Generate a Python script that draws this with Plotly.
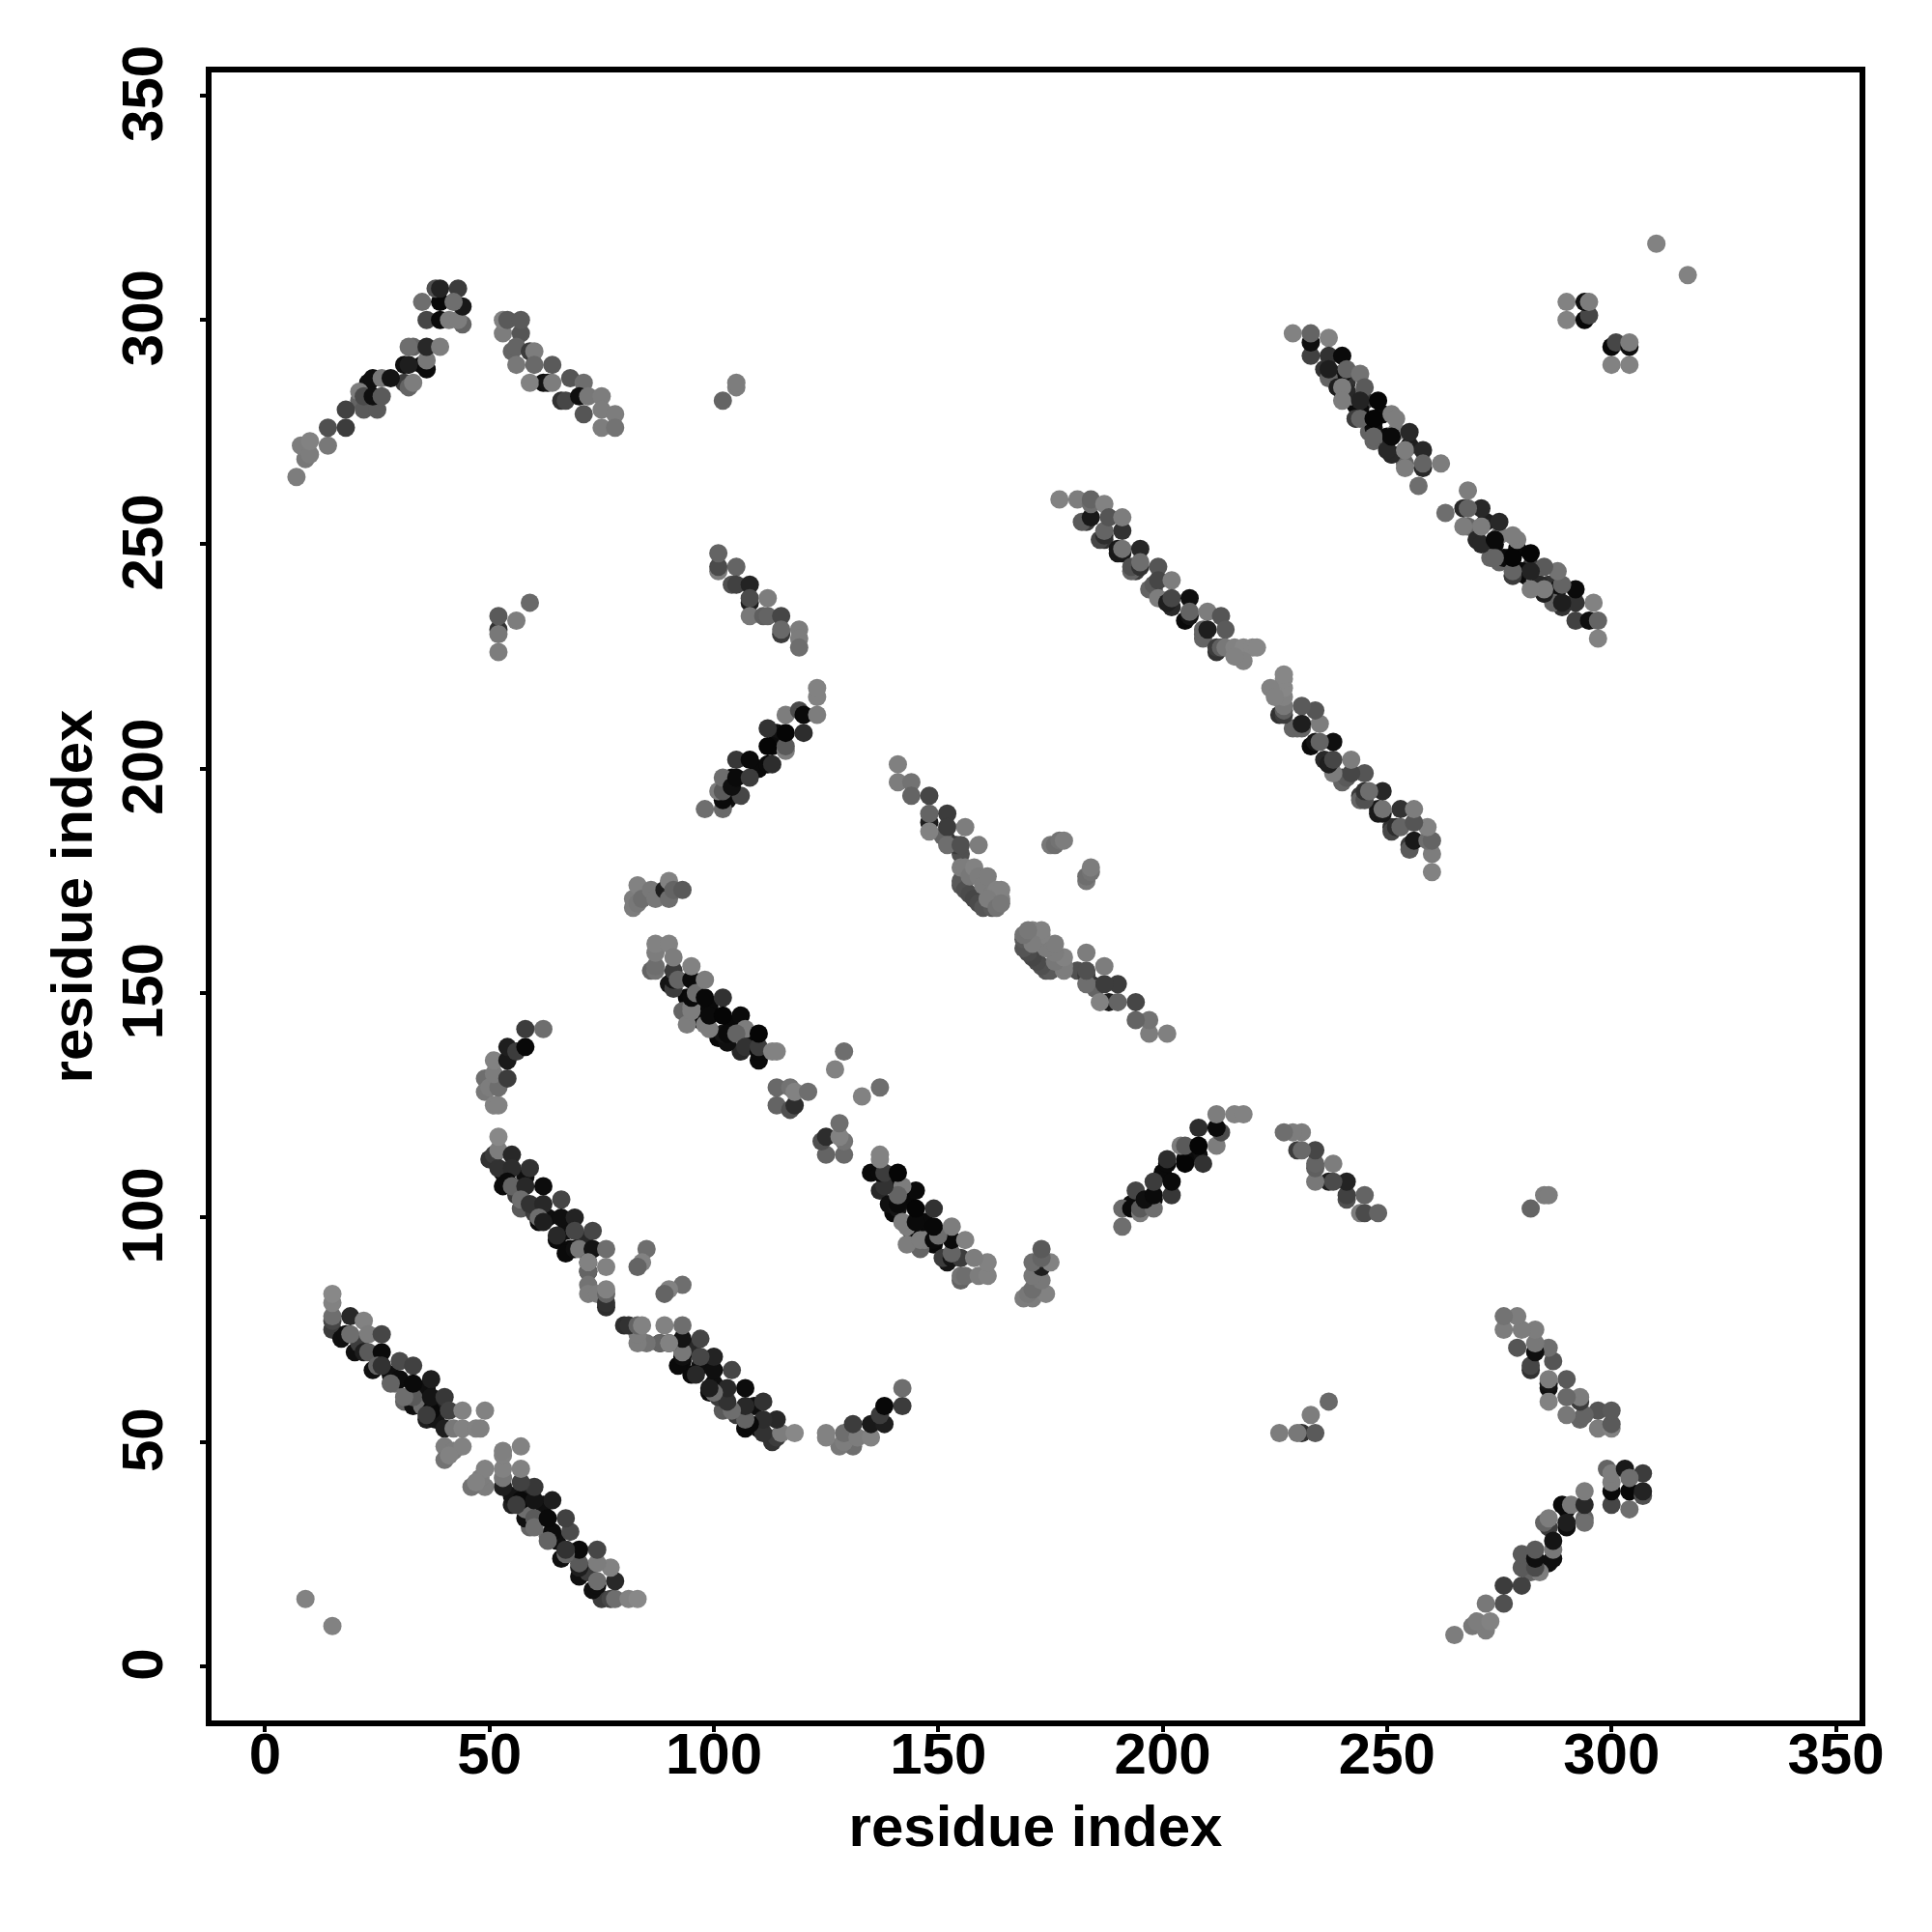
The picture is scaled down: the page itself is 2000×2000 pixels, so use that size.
import plotly.graph_objects as go

# Contacts are listed once (i < j) and drawn at both (i, j) and (j, i).
# "u_" lists are contacts mostly hidden under the others, so they are drawn first.
u_a_i = [15,17,20,24,29,31,33,36,21,25,28,35,36,39,38]
u_a_j = [75,73,70,66,63,59,58,55,72,69,65,58,62,58,55]
u_a_g = [60,15,15,15,110,100,15,30,60,60,15,110,15,30,20]

u_b_i = [50,53,57,61,65,68,72,76,72,67,56,60,63,67,71,58,53]
u_b_j = [113,107,102,99,95,93,88,80,88,92,105,101,100,97,95,109,110]
u_b_g = [50,10,90,10,10,10,50,45,100,10,60,60,15,15,40,15,15]

u_c_i = [86,90,94,93,97,101,106,94,99,104,107,103,97,87,91,95,102,98,110]
u_c_j = [155,152,149,146,144,140,137,143,147,143,140,139,148,155,151,147,141,143,135]
u_c_g = [100,20,8,100,10,8,40,125,10,8,8,15,10,115,60,125,20,125,10]

u_e_i = [148,152,155,154,151]
u_e_j = [188,184,181,183,185]
u_e_g = [30,50,80,60,100]

u_f_i = [183,187,191,194,198,202,205,209,212,209,201,197,193,190,186,182]
u_f_j = [255,251,248,244,240,236,233,230,226,229,237,240,244,248,251,255]
u_f_g = [60,50,25,60,70,40,10,100,50,100,30,100,100,25,70,90]

u_g_i = [236,239,243,243,246,250,253,254,251,247,249,245,241,240,252,255,242,251,247,247,244,241,237]
u_g_j = [289,285,281,278,275,274,270,268,270,276,279,282,286,288,275,272,283,270,273,277,280,284,287]
u_g_g = [50,40,10,100,100,10,10,100,50,15,8,60,50,15,125,30,125,40,100,10,10,40,100]

u_i_i = [23,21,31,31,35,33,55,62,66,103,104,110,114,113]
u_i_j = [286,282,290,286,290,294,293,286,282,193,198,200,208,205]
u_i_g = [15,100,15,60,10,100,100,15,50,15,10,10,15,10]

a_i = [15,15,15,15,18,19,19,22,22,23,23,26,26,26,25,26,30,28,30,33,33,31,33,37,37,36,37,40,41,40,42,44,47,48,44,49,40,42,44,40,41]
a_j = [77,78,81,83,74,74,78,70,77,74,70,70,74,67,67,67,64,63,68,67,60,60,63,64,57,56,60,60,57,53,53,53,53,53,57,57,49,48,49,46,47]
a_g = [70,110,130,136,15,110,40,30,130,125,90,10,70,30,100,50,12,100,75,65,90,110,10,30,10,60,20,55,65,30,120,130,130,128,130,130,125,125,130,115,130]

b_i = [51,52,52,52,55,55,59,54,55,58,62,57,59,62,61,62,66,66,65,69,69,73,69,70,73,76,72,72,76,72,72,74,76,76,76,85,84,83]
b_j = [114,111,115,118,114,111,111,108,107,107,107,104,103,103,100,99,104,100,96,100,97,97,93,93,93,93,90,90,89,85,83,83,81,83,84,93,90,89]
b_g = [60,50,125,136,40,45,50,10,100,40,12,110,50,40,110,30,70,15,40,35,70,70,15,120,20,110,50,130,130,115,125,125,50,100,130,110,130,100]

arc_i = [49,49,50,51,52,52,51,54,51,54,54,56,58,58,62]
arc_j = [131,128,129,125,125,129,132,131,135,135,138,137,138,142,142]
arc_g = [110,120,125,130,130,110,125,60,130,25,30,60,8,60,110]

c_i = [87,87,87,90,91,91,91,92,95,95,95,95,96,98,98,99,99,102,102,103,106,107,105,107,110,110,110,113,114,114,114,117,117,118,118,121,129,127]
c_j = [156,159,161,161,153,155,158,153,146,149,153,156,150,149,153,142,145,149,145,141,145,142,141,138,137,138,141,137,137,125,129,129,124,125,128,128,137,133]
c_g = [110,125,130,130,20,60,125,100,125,10,10,130,110,8,125,125,10,50,5,10,10,125,100,50,10,60,5,130,130,100,105,115,80,45,130,110,110,130]

d_i = [82,82,83,83,84,86,87,89,90,90,91,93]
d_j = [169,171,170,174,171,173,171,173,171,175,173,173]
d_g = [125,125,120,130,110,120,120,30,110,130,100,90]

e_i = [141,141,144,144,148,148,148,152,152,152,155,156,159]
e_j = [197,201,197,194,194,190,186,190,187,183,183,187,183]
e_g = [125,128,115,100,70,100,130,60,60,110,80,125,125]

blob_i = [155,155,156,157,158,159,160,162,155,156,157,158,159,160,161,162,163,164,164,161,163,164]
blob_j = [174,175,173,172,171,170,169,169,178,178,176,178,176,174,176,172,173,171,173,171,169,170]
blob_g = [85,90,80,75,70,75,85,90,125,125,120,130,125,125,125,125,130,130,130,125,115,120]

side_i = [175,176,177,178]
side_j = [183,183,184,184]
side_g = [120,110,115,125]

f_i = [177,181,184,184,184,187,187,187,188,191,191,190,191,195,193,195,195,199,198,199,202,199,201,202,206,206,206,210,213,209,210,214,212,213,214,216,218,220,221,218,216]
f_j = [260,260,256,259,260,259,252,253,256,253,256,249,249,249,245,245,246,245,241,242,242,238,237,238,238,234,235,235,234,231,231,231,227,227,227,227,227,227,227,224,225]
f_g = [130,125,25,110,100,130,45,100,85,50,125,25,115,40,80,50,110,85,90,70,125,125,30,70,15,20,100,125,85,100,30,90,60,95,120,130,135,135,135,130,130]

g_i = [229,233,233,233,237,237,237,240,239,240,241,240,244,245,243,244,248,244,247,247,250,251,251,252,255,254,258,254,258,258,262,257]
g_j = [297,292,295,297,296,292,289,292,285,285,289,282,288,285,278,282,282,278,278,274,271,274,279,278,275,271,271,267,267,268,268,263]
g_g = [130,65,15,100,130,50,30,10,30,125,100,125,115,90,60,35,5,100,5,100,40,10,125,125,40,125,40,125,40,100,125,110]

h_i = [290,290,294,295,294,295,310]
h_j = [300,304,300,301,304,304,317]
h_g = [130,130,8,70,15,125,130]

i_i = [7,9,8,10,10,14,14,18,18,21,22,25,22,24,26,24,26,28,32,33,32,32,36,36,36,39,36,39,41,44,43,35,39,44,38,39,43,42]
i_j = [265,269,272,270,273,272,276,276,280,284,280,280,283,283,283,287,287,287,285,286,290,294,289,291,294,294,300,300,300,299,300,304,304,303,307,307,307,304]
i_g = [125,120,125,125,130,120,80,60,65,125,90,90,75,15,90,15,120,20,100,125,30,110,10,120,40,125,70,10,125,100,125,110,8,25,80,35,60,110]

m_i = [53,57,53,54,57,56,56,59,60,60,64,59,63,64,68,71,67,70,72,75,71,75,78,75,78,102,105,105]
m_j = [297,297,300,300,300,294,290,293,293,290,290,286,286,286,287,286,282,283,283,283,279,280,279,276,276,282,285,286]
m_g = [125,85,130,90,90,100,120,60,125,105,90,130,20,125,85,110,70,15,120,125,85,125,125,125,115,100,125,125]

j_i = [101,101,101,105,104,105,108,108,108,112,108,111,112,115,115,115,119,119,119]
j_j = [244,245,248,245,241,241,241,237,238,238,234,234,234,234,230,231,231,229,227]
j_g = [125,75,100,100,80,65,35,30,75,125,120,95,100,70,60,105,125,125,110]

k_i = [98,102,102,101,102,102,106,104,105,108,105,108,112,113,112,112,116,116,116,120,116,119,120,123,123,123]
k_j = [191,191,193,195,195,198,194,196,198,198,202,202,201,201,205,209,204,205,208,208,212,213,212,212,216,218]
k_g = [110,105,10,125,90,110,70,15,10,60,55,10,10,45,5,50,125,90,5,45,125,75,10,125,130,130]

l_i = [52,52,52,52,56,59,9]
l_j = [226,231,234,230,233,237,15]
l_g = [125,50,90,120,125,105,130]

segments = [
    (u_a_i, u_a_j, u_a_g), (u_b_i, u_b_j, u_b_g), (u_c_i, u_c_j, u_c_g), (u_e_i, u_e_j, u_e_g),
    (u_f_i, u_f_j, u_f_g), (u_g_i, u_g_j, u_g_g), (u_i_i, u_i_j, u_i_g),
    (a_i, a_j, a_g), (b_i, b_j, b_g), (arc_i, arc_j, arc_g), (c_i, c_j, c_g),
    (d_i, d_j, d_g), (e_i, e_j, e_g), (blob_i, blob_j, blob_g), (side_i, side_j, side_g),
    (f_i, f_j, f_g), (g_i, g_j, g_g), (h_i, h_j, h_g), (i_i, i_j, i_g),
    (m_i, m_j, m_g), (j_i, j_j, j_g), (k_i, k_j, k_g), (l_i, l_j, l_g),
]

tick_vals = [0, 50, 100, 150, 200, 250, 300, 350]
tick_text = ["0", "50", "100", "150", "200", "250", "300", "350"]
axis_title = "residue index"

xs, ys, cols = [], [], []
for si, sj, sg in segments:
    assert len(si) == len(sj) == len(sg), (si[:3], len(si), len(sj), len(sg))
    for a, b, g in zip(si, sj, sg):
        xs.append(a); ys.append(b); cols.append(f"rgb({g},{g},{g})")
for si, sj, sg in segments:
    for a, b, g in zip(si, sj, sg):
        xs.append(b); ys.append(a); cols.append(f"rgb({g},{g},{g})")

fig = go.Figure(go.Scatter(
    x=xs, y=ys, mode="markers",
    marker=dict(size=19, color=cols, line=dict(width=0)),
    hoverinfo="skip", showlegend=False,
))
# Invisible companion trace so the label-carrying overlay axis is drawn.
fig.add_trace(go.Scatter(x=[0], y=[0], yaxis="y2", mode="markers",
                         marker=dict(size=1, opacity=0), hoverinfo="skip", showlegend=False))

FONT = "Liberation Sans"
BOLD = dict(family=FONT, size=60, color="black", weight=700)
Y_RANGE = [-12.05, 355.14]
LABEL_SHIFT = 1.5   # rotated labels sit this many units lower than plotly centres them

fig.update_layout(
    width=2000, height=2000, autosize=False,
    margin=dict(l=211, r=83, t=67, b=227),
    paper_bgcolor="white", plot_bgcolor="white",
    xaxis=dict(
        range=[-11.92, 355.27], autorange=False, tickmode="array", tickvals=tick_vals, ticktext=tick_text,
        ticks="outside", ticklen=6, tickwidth=4, tickcolor="black",
        showline=True, linecolor="black", linewidth=6, mirror=True,
        showgrid=False, zeroline=False, automargin=False,
        ticklabelstandoff=-29, tickfont=BOLD,
        title=dict(text=axis_title, standoff=23, font=BOLD),
    ),
    yaxis=dict(
        range=Y_RANGE, autorange=False, tickmode="array", tickvals=tick_vals, showticklabels=False,
        ticks="outside", ticklen=6, tickwidth=4, tickcolor="black",
        showline=True, linecolor="black", linewidth=6, mirror=True,
        showgrid=False, zeroline=False, automargin=False,
        title=dict(text=axis_title, standoff=94, font=BOLD),
    ),
    yaxis2=dict(
        overlaying="y", side="left",
        range=[Y_RANGE[0] + LABEL_SHIFT, Y_RANGE[1] + LABEL_SHIFT], autorange=False,
        tickmode="array", tickvals=tick_vals, ticktext=tick_text, ticks="outside", ticklen=6,
        tickwidth=0, tickcolor="rgba(0,0,0,0)", tickangle=-90, ticklabelstandoff=20, tickfont=BOLD,
        showline=False, showgrid=False, zeroline=False, automargin=False,
    ),
)
fig.write_html("out.html")
